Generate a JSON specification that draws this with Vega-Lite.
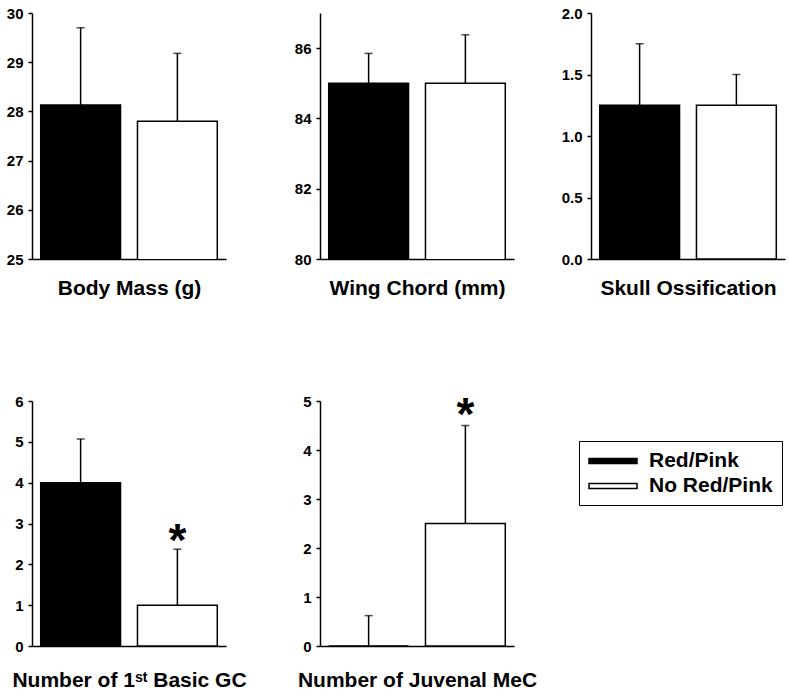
{
  "$schema": "https://vega.github.io/schema/vega-lite/v6.json",
  "autosize": {"type": "pad"},
  "padding": {"left": 6, "top": 6, "right": 5, "bottom": 5},
  "background": "white",
  "config": {
    "view": {"stroke": null},
    "font": "Liberation Sans",
    "axisY": {"labelFont": "Liberation Sans", "labelFontWeight": "bold", "labelFontSize": 15, "labelColor": "black", "domainColor": "black", "domainWidth": 1.5, "tickColor": "black", "tickWidth": 1.5, "tickSize": 4, "labelPadding": 5, "grid": false, "title": null},
    "axisX": {"labels": false, "ticks": false, "domainColor": "black", "domainWidth": 1.5, "titleFont": "Liberation Sans", "titleFontSize": 21, "titleFontWeight": "bold", "titleColor": "black", "grid": false}
  },
  "datasets": {
    "p1": [{"group": "Red/Pink", "value": 28.13, "upper": 29.7}, {"group": "No Red/Pink", "value": 27.8, "upper": 29.18}],
    "p2": [{"group": "Red/Pink", "value": 85.0, "upper": 85.85}, {"group": "No Red/Pink", "value": 85.0, "upper": 86.38}],
    "p3": [{"group": "Red/Pink", "value": 1.25, "upper": 1.75}, {"group": "No Red/Pink", "value": 1.25, "upper": 1.5}],
    "p4": [{"group": "Red/Pink", "value": 4.0, "upper": 5.07}, {"group": "No Red/Pink", "value": 1.0, "upper": 2.37}],
    "p5": [{"group": "Red/Pink", "value": 0.0, "upper": 0.62}, {"group": "No Red/Pink", "value": 2.5, "upper": 4.5}],
    "s4": [{"group": "No Red/Pink", "pos": 2.81, "label": "*"}],
    "s5": [{"group": "No Red/Pink", "pos": 4.91, "label": "*"}]
  },
  "spacing": 95,
  "resolve": {"scale": {"fill": "independent", "x": "independent", "y": "independent"}, "legend": {"fill": "independent"}},
  "vconcat": [
    {
      "spacing": 47,
      "resolve": {"scale": {"fill": "independent", "x": "independent", "y": "independent"}, "legend": {"fill": "independent"}},
      "hconcat": [
        {
          "bounds": "flush",
          "spacing": 94,
          "resolve": {"scale": {"fill": "independent", "x": "independent", "y": "independent"}, "legend": {"fill": "independent"}},
          "hconcat": [
            {
              "width": 194, "height": 246,
              "data": {"name": "p1"},
              "encoding": {
                "x": {"field": "group", "type": "nominal", "sort": ["Red/Pink", "No Red/Pink"], "scale": {"paddingInner": 0.175, "paddingOuter": 0.09}, "axis": {"title": "Body Mass (g)", "titlePadding": 18}}
              },
              "layer": [
                {"mark": {"type": "bar", "stroke": "black", "strokeWidth": 1.5, "clip": true},
                 "encoding": {"y": {"field": "value", "type": "quantitative", "scale": {"domain": [25, 30], "zero": false, "nice": false}, "axis": {"values": [25, 26, 27, 28, 29, 30]}},
                              "fill": {"field": "group", "type": "nominal", "scale": {"domain": ["Red/Pink", "No Red/Pink"], "range": ["black", "white"]}, "legend": null}}},
                {"mark": {"type": "rule", "color": "black", "strokeWidth": 1.5},
                 "encoding": {"y": {"field": "value", "type": "quantitative", "scale": {"domain": [25, 30], "zero": false, "nice": false}}, "y2": {"field": "upper"}}},
                {"mark": {"type": "tick", "color": "black", "thickness": 1.5, "size": 8},
                 "encoding": {"y": {"field": "upper", "type": "quantitative", "scale": {"domain": [25, 30], "zero": false, "nice": false}}}}
              ]
            },
            {
              "width": 194, "height": 246,
              "data": {"name": "p2"},
              "encoding": {
                "x": {"field": "group", "type": "nominal", "sort": ["Red/Pink", "No Red/Pink"], "scale": {"paddingInner": 0.175, "paddingOuter": 0.09}, "axis": {"title": "Wing Chord (mm)", "titlePadding": 18}}
              },
              "layer": [
                {"mark": {"type": "bar", "stroke": "black", "strokeWidth": 1.5, "clip": true},
                 "encoding": {"y": {"field": "value", "type": "quantitative", "scale": {"domain": [80, 87], "zero": false, "nice": false}, "axis": {"values": [80, 82, 84, 86]}},
                              "fill": {"field": "group", "type": "nominal", "scale": {"domain": ["Red/Pink", "No Red/Pink"], "range": ["black", "white"]}, "legend": null}}},
                {"mark": {"type": "rule", "color": "black", "strokeWidth": 1.5},
                 "encoding": {"y": {"field": "value", "type": "quantitative", "scale": {"domain": [80, 87], "zero": false, "nice": false}}, "y2": {"field": "upper"}}},
                {"mark": {"type": "tick", "color": "black", "thickness": 1.5, "size": 8},
                 "encoding": {"y": {"field": "upper", "type": "quantitative", "scale": {"domain": [80, 87], "zero": false, "nice": false}}}}
              ]
            }
          ]
        },
        {
          "width": 194, "height": 246,
          "data": {"name": "p3"},
          "encoding": {
            "x": {"field": "group", "type": "nominal", "sort": ["Red/Pink", "No Red/Pink"], "scale": {"paddingInner": 0.175, "paddingOuter": 0.09}, "axis": {"title": "Skull Ossification", "titlePadding": 18}}
          },
          "layer": [
            {"mark": {"type": "bar", "stroke": "black", "strokeWidth": 1.5},
             "encoding": {"y": {"field": "value", "type": "quantitative", "scale": {"domain": [0, 2], "nice": false}, "axis": {"values": [0, 0.5, 1, 1.5, 2], "format": ".1f"}},
                          "fill": {"field": "group", "type": "nominal", "scale": {"domain": ["Red/Pink", "No Red/Pink"], "range": ["black", "white"]}, "legend": null}}},
            {"mark": {"type": "rule", "color": "black", "strokeWidth": 1.5},
             "encoding": {"y": {"field": "value", "type": "quantitative", "scale": {"domain": [0, 2], "nice": false}}, "y2": {"field": "upper"}}},
            {"mark": {"type": "tick", "color": "black", "thickness": 1.5, "size": 8},
             "encoding": {"y": {"field": "upper", "type": "quantitative", "scale": {"domain": [0, 2], "nice": false}}}}
          ]
        }
      ]
    },
    {
      "bounds": "flush",
      "spacing": 94,
      "resolve": {"scale": {"fill": "independent", "x": "independent", "y": "independent"}, "legend": {"fill": "independent"}},
      "hconcat": [
        {
          "width": 194, "height": 245,
          "data": {"name": "p4"},
          "encoding": {
            "x": {"field": "group", "type": "nominal", "sort": ["Red/Pink", "No Red/Pink"], "scale": {"paddingInner": 0.175, "paddingOuter": 0.09}, "axis": {"title": "Number of 1ˢᵗ Basic GC", "titlePadding": 23}}
          },
          "layer": [
            {"mark": {"type": "bar", "stroke": "black", "strokeWidth": 1.5},
             "encoding": {"y": {"field": "value", "type": "quantitative", "scale": {"domain": [0, 6], "nice": false}, "axis": {"values": [0, 1, 2, 3, 4, 5, 6]}},
                          "fill": {"field": "group", "type": "nominal", "scale": {"domain": ["Red/Pink", "No Red/Pink"], "range": ["black", "white"]}, "legend": null}}},
            {"mark": {"type": "rule", "color": "black", "strokeWidth": 1.5},
             "encoding": {"y": {"field": "value", "type": "quantitative", "scale": {"domain": [0, 6], "nice": false}}, "y2": {"field": "upper"}}},
            {"mark": {"type": "tick", "color": "black", "thickness": 1.5, "size": 8},
             "encoding": {"y": {"field": "upper", "type": "quantitative", "scale": {"domain": [0, 6], "nice": false}}}},
            {"data": {"name": "s4"},
             "mark": {"type": "text", "font": "Liberation Sans", "fontWeight": "bold", "fontSize": 46, "color": "black", "baseline": "middle", "dy": 11},
             "encoding": {"y": {"field": "pos", "type": "quantitative", "scale": {"domain": [0, 6], "nice": false}}, "text": {"field": "label"}}}
          ]
        },
        {
          "width": 194, "height": 245,
          "data": {"name": "p5"},
          "encoding": {
            "x": {"field": "group", "type": "nominal", "sort": ["Red/Pink", "No Red/Pink"], "scale": {"paddingInner": 0.175, "paddingOuter": 0.09}, "axis": {"title": "Number of Juvenal MeC", "titlePadding": 23}}
          },
          "layer": [
            {"mark": {"type": "bar", "stroke": "black", "strokeWidth": 1.5},
             "encoding": {"y": {"field": "value", "type": "quantitative", "scale": {"domain": [0, 5], "nice": false}, "axis": {"values": [0, 1, 2, 3, 4, 5]}},
                          "fill": {"field": "group", "type": "nominal", "scale": {"domain": ["Red/Pink", "No Red/Pink"], "range": ["black", "white"]},
                                   "legend": {"title": null, "orient": "none", "legendX": 259, "legendY": 40, "direction": "vertical",
                                              "strokeColor": "black", "padding": 9, "symbolType": "M-2.4,-0.25H2.4V0.25H-2.4Z", "symbolSize": 400, "symbolOffset": 14,
                                              "symbolStrokeColor": "black", "symbolStrokeWidth": 1.5, "labelFont": "Liberation Sans", "labelFontSize": 21,
                                              "labelFontWeight": "bold", "labelColor": "black", "labelOffset": 25, "rowPadding": 4, "labelLimit": 300}}}},
            {"mark": {"type": "rule", "color": "black", "strokeWidth": 1.5},
             "encoding": {"y": {"field": "value", "type": "quantitative", "scale": {"domain": [0, 5], "nice": false}}, "y2": {"field": "upper"}}},
            {"mark": {"type": "tick", "color": "black", "thickness": 1.5, "size": 8},
             "encoding": {"y": {"field": "upper", "type": "quantitative", "scale": {"domain": [0, 5], "nice": false}}}},
            {"data": {"name": "s5"},
             "mark": {"type": "text", "font": "Liberation Sans", "fontWeight": "bold", "fontSize": 46, "color": "black", "baseline": "middle", "dy": 11},
             "encoding": {"y": {"field": "pos", "type": "quantitative", "scale": {"domain": [0, 5], "nice": false}}, "text": {"field": "label"}}}
          ]
        }
      ]
    }
  ]
}
